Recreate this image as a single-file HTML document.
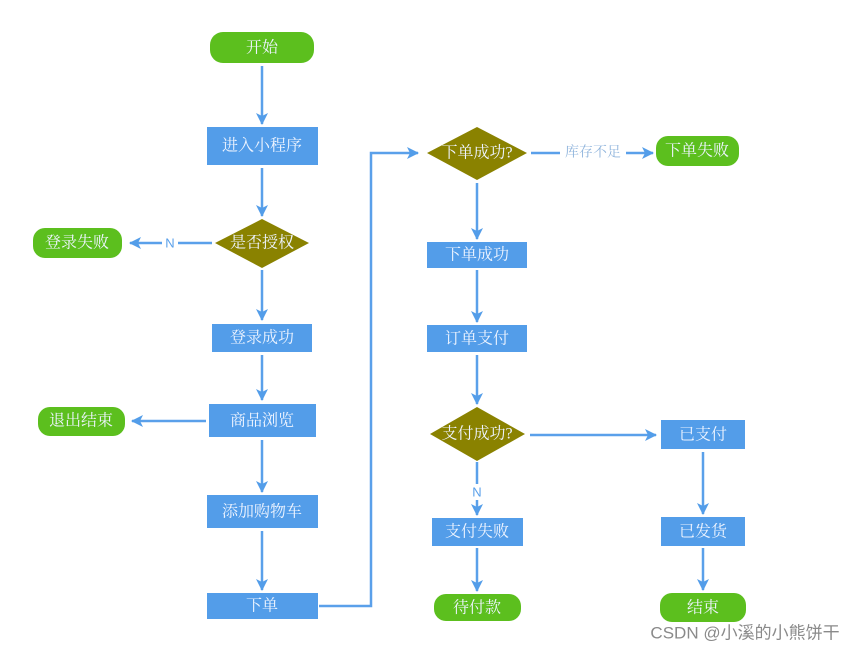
<!DOCTYPE html>
<html><head><meta charset="utf-8"><style>
html,body{margin:0;padding:0;background:#fff;}
svg{display:block;}
text{font-family:"Liberation Serif","Noto Serif CJK SC","Noto Sans CJK SC",serif;font-size:16px;fill:#eef4ff;text-anchor:middle;dominant-baseline:central;}
</style></head><body>
<svg width="866" height="651" viewBox="0 0 866 651" xmlns="http://www.w3.org/2000/svg">
<defs>
<marker id="a" markerWidth="12" markerHeight="12" refX="11" refY="6" orient="auto" markerUnits="userSpaceOnUse">
<path d="M0,0 L12,6 L0,12 L3,6 Z" fill="#539de9"/>
</marker>
</defs>
<g stroke="#5aa0ea" stroke-width="2.5" fill="none" marker-end="url(#a)">
<line x1="262" y1="66" x2="262" y2="124"/>
<line x1="262" y1="168" x2="262" y2="216"/>
<line x1="212" y1="243" x2="130" y2="243"/>
<line x1="262" y1="270" x2="262" y2="320"/>
<line x1="262" y1="355" x2="262" y2="400"/>
<line x1="206" y1="421" x2="132" y2="421"/>
<line x1="262" y1="440" x2="262" y2="492"/>
<line x1="262" y1="531" x2="262" y2="590"/>
<polyline points="319,606 371,606 371,153 418,153"/>
<line x1="531" y1="153" x2="653" y2="153"/>
<line x1="477" y1="183" x2="477" y2="239"/>
<line x1="477" y1="270" x2="477" y2="322"/>
<line x1="477" y1="355" x2="477" y2="404"/>
<line x1="530" y1="435" x2="656" y2="435"/>
<line x1="477" y1="462" x2="477" y2="515"/>
<line x1="703" y1="452" x2="703" y2="514"/>
<line x1="477" y1="548" x2="477" y2="591"/>
<line x1="703" y1="548" x2="703" y2="590"/>
</g>
<rect x="162" y="235" width="16" height="16" fill="#fff"/>
<text x="170" y="243" style="fill:#5aa0ea;font-family:'Liberation Sans',sans-serif;font-size:13px">N</text>
<rect x="560" y="144" width="66" height="18" fill="#fff"/>
<text x="593" y="153" style="fill:#8fb4dc;font-size:14px">库存不足</text>
<rect x="469" y="484" width="16" height="16" fill="#fff"/>
<text x="477" y="492" style="fill:#5aa0ea;font-family:'Liberation Sans',sans-serif;font-size:13px">N</text>
<g fill="#5cbf1e">
<rect x="210" y="32" width="104" height="31" rx="13"/>
<rect x="33" y="228" width="89" height="30" rx="12"/>
<rect x="38" y="407" width="87" height="29" rx="12"/>
<rect x="656" y="136" width="83" height="30" rx="12"/>
<rect x="434" y="594" width="87" height="27" rx="12"/>
<rect x="660" y="593" width="86" height="29" rx="12"/>
</g>
<g fill="#539de9">
<rect x="207" y="127" width="111" height="38"/>
<rect x="212" y="324" width="100" height="28"/>
<rect x="209" y="404" width="107" height="33"/>
<rect x="207" y="495" width="111" height="33"/>
<rect x="207" y="593" width="111" height="26"/>
<rect x="427" y="242" width="100" height="26"/>
<rect x="427" y="325" width="100" height="27"/>
<rect x="661" y="420" width="84" height="29"/>
<rect x="661" y="517" width="84" height="29"/>
<rect x="432" y="518" width="91" height="28"/>
</g>
<g fill="#8a8200">
<polygon points="262,219 309,243 262,268 215,243"/>
<polygon points="477,127 527,153 477,180 427,153"/>
<polygon points="477,407 525,434 477,461 430,434"/>
</g>
<text x="262" y="48">开始</text>
<text x="262" y="146">进入小程序</text>
<text x="262" y="243">是否授权</text>
<text x="77" y="243">登录失败</text>
<text x="262" y="338">登录成功</text>
<text x="262" y="421">商品浏览</text>
<text x="81" y="421">退出结束</text>
<text x="262" y="512">添加购物车</text>
<text x="262" y="606">下单</text>
<text x="477" y="153">下单成功?</text>
<text x="697" y="151">下单失败</text>
<text x="477" y="255">下单成功</text>
<text x="477" y="339">订单支付</text>
<text x="477" y="434">支付成功?</text>
<text x="703" y="435">已支付</text>
<text x="703" y="532">已发货</text>
<text x="477" y="532">支付失败</text>
<text x="477" y="608">待付款</text>
<text x="703" y="608">结束</text>
<text x="745" y="633" style="fill:#8a8a8a;font-family:'Liberation Sans','Noto Sans CJK SC',sans-serif;font-size:17px">CSDN @小溪的小熊饼干</text>
</svg>
</body></html>
